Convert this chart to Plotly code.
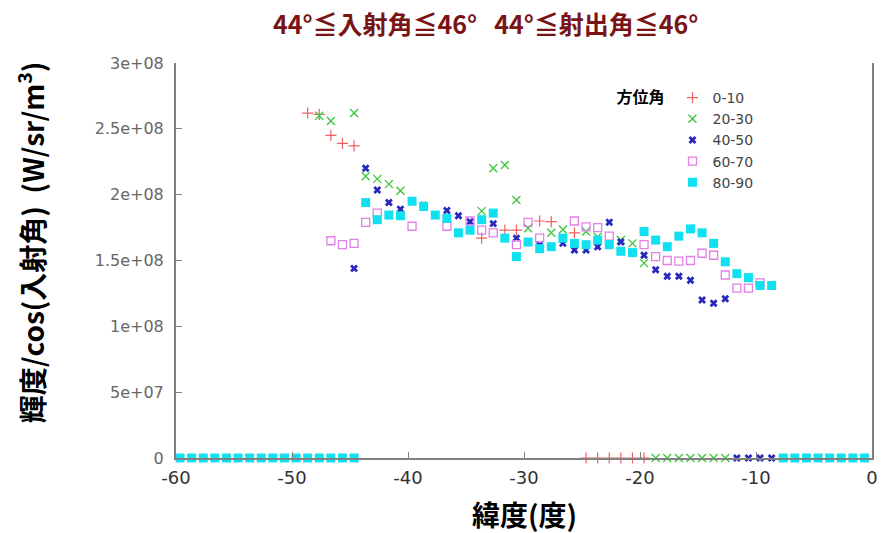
import plotly.graph_objects as go

# ---------------- data (latitude in degrees, value in W/sr/m^3) ----------------
lat_0_10 = [-48.65, -47.65, -46.65, -45.65, -44.65, -33.65, -31.65, -30.65, -28.65, -27.65, -25.65,
            -24.65, -23.65, -22.65, -21.65, -20.65, -19.65]
val_0_10 = [2.62e8, 2.61e8, 2.45e8, 2.39e8, 2.37e8, 1.67e8, 1.73e8, 1.73e8, 1.80e8, 1.795e8, 1.71e8,
            0, 0, 0, 0, 0, 0]

lat_20_30 = [-47.65, -46.65, -44.65, -43.65, -42.65, -41.65, -40.65, -36.65, -33.65, -32.65, -31.65,
             -30.65, -29.65, -27.65, -26.65, -24.65, -23.65, -21.65, -20.65, -19.65,
             -18.65, -17.65, -16.65, -15.65, -14.65, -13.65, -12.65]
val_20_30 = [2.60e8, 2.56e8, 2.62e8, 2.14e8, 2.12e8, 2.08e8, 2.03e8, 1.82e8, 1.875e8, 2.20e8, 2.225e8,
             1.96e8, 1.745e8, 1.71e8, 1.735e8, 1.72e8, 1.68e8, 1.655e8, 1.63e8, 1.48e8,
             0, 0, 0, 0, 0, 0, 0]

lat_40_50 = [-44.65, -43.65, -42.65, -41.65, -40.65, -38.65, -36.65, -35.65, -34.65, -32.65, -30.65,
             -28.65, -26.65, -25.65, -24.65, -23.65, -22.65, -21.65, -19.65, -18.65, -17.65, -16.65,
             -15.65, -14.65, -13.65, -12.65, -11.65, -10.65, -9.65, -8.65]
val_40_50 = [1.44e8, 2.20e8, 2.035e8, 1.94e8, 1.89e8, 1.92e8, 1.88e8, 1.84e8, 1.795e8, 1.78e8, 1.67e8,
             1.62e8, 1.63e8, 1.58e8, 1.58e8, 1.605e8, 1.79e8, 1.64e8, 1.54e8, 1.43e8, 1.38e8, 1.38e8,
             1.35e8, 1.20e8, 1.175e8, 1.21e8, 0, 0, 0, 0]

lat_60_70 = [-46.65, -45.65, -44.65, -43.65, -42.65, -39.65, -36.65, -34.65, -33.65, -32.65, -30.65,
             -29.65, -28.65, -25.65, -24.65, -23.65, -22.65, -19.65, -18.65, -17.65, -16.65, -15.65,
             -14.65, -13.65, -12.65, -11.65, -10.65, -9.65]
val_60_70 = [1.65e8, 1.62e8, 1.63e8, 1.79e8, 1.86e8, 1.76e8, 1.76e8, 1.80e8, 1.73e8, 1.71e8, 1.62e8,
             1.79e8, 1.67e8, 1.80e8, 1.755e8, 1.75e8, 1.685e8, 1.62e8, 1.53e8, 1.50e8, 1.495e8, 1.50e8,
             1.555e8, 1.54e8, 1.39e8, 1.29e8, 1.29e8, 1.33e8]

lat_80_90 = [-59.65, -58.65, -57.65, -56.65, -55.65, -54.65, -53.65, -52.65, -51.65, -50.65, -49.65,
             -48.65, -47.65, -46.65, -45.65, -44.65,
             -43.65, -42.65, -41.65, -40.65, -39.65, -38.65, -37.65, -36.65, -35.65, -34.65, -33.65,
             -32.65, -31.65, -30.65, -29.65, -28.65, -27.65, -26.65, -25.65, -24.65, -23.65, -22.65,
             -21.65, -20.65, -19.65, -18.65, -17.65, -16.65, -15.65, -14.65, -13.65, -12.65, -11.65,
             -10.65, -9.65, -8.65,
             -7.65, -6.65, -5.65, -4.65, -3.65, -2.65, -1.65, -0.65]
val_80_90 = [0, 0, 0, 0, 0, 0, 0, 0, 0, 0, 0, 0, 0, 0, 0, 0,
             1.94e8, 1.81e8, 1.845e8, 1.84e8, 1.95e8, 1.91e8, 1.845e8, 1.82e8, 1.71e8, 1.73e8, 1.81e8,
             1.86e8, 1.67e8, 1.53e8, 1.64e8, 1.59e8, 1.605e8, 1.67e8, 1.63e8, 1.62e8, 1.655e8, 1.62e8,
             1.57e8, 1.56e8, 1.72e8, 1.655e8, 1.605e8, 1.685e8, 1.74e8, 1.71e8, 1.63e8, 1.49e8, 1.40e8,
             1.37e8, 1.31e8, 1.31e8,
             0, 0, 0, 0, 0, 0, 0, 0]

y_tick_vals = [0, 5e7, 1e8, 1.5e8, 2e8, 2.5e8, 3e8]
y_tick_text = ["0", "5e+07", "1e+08", "1.5e+08", "2e+08", "2.5e+08", "3e+08"]
x_tick_vals = [-60, -50, -40, -30, -20, -10, 0]
x_tick_text = ["-60", "-50", "-40", "-30", "-20", "-10", "0"]

title_text = "44°≦入射角≦46°\u00a0\u00a0\u00a044°≦射出角≦46°"
x_title = "緯度(度)"
y_title = "輝度/cos(入射角)\u00a0\u00a0(W/sr/m<sup>3</sup>)"
legend_title = "方位角"

series = [
    ("0-10", lat_0_10, val_0_10, dict(symbol="cross-thin", size=8, color="#f06060",
                                      line=dict(width=1.2, color="#f06060"))),
    ("20-30", lat_20_30, val_20_30, dict(symbol="x-thin", size=8, color="#40c840",
                                         line=dict(width=1.4, color="#40c840"))),
    ("40-50", lat_40_50, val_40_50, dict(symbol="x", size=7, color="#2828c0",
                                         line=dict(width=0, color="#2828c0"))),
    ("60-70", lat_60_70, val_60_70, dict(symbol="square-open", size=8, color="#e080e8",
                                         line=dict(width=1.3, color="#e080e8"))),
    ("80-90", lat_80_90, val_80_90, dict(symbol="square", size=9, color="#10e0f0",
                                         line=dict(width=0, color="#10e0f0"))),
]

fig = go.Figure()
for name, xs, ys, mk in series:
    fig.add_trace(go.Scatter(x=xs, y=ys, mode="markers", name=name, marker=mk, cliponaxis=False))

CJK = "Noto Sans CJK JP"
TICK = "DejaVu Sans, Verdana, sans-serif"

# the page body adds an 8px offset, so the figure fits in 870 x 525
fig.update_layout(
    width=870, height=525,
    margin=dict(l=168, r=0, t=55, b=75),
    plot_bgcolor="white", paper_bgcolor="white",
    title=dict(text=title_text, x=0.549, xanchor="center", y=0.968, yanchor="middle",
               font=dict(family=CJK, size=25, color="#7a1414", weight="bold")),
    legend=dict(
        x=0.63, y=0.952, xanchor="left", yanchor="top",
        bgcolor="rgba(0,0,0,0)",
        font=dict(family=TICK, size=14, color="#444444"),
        title=dict(text=legend_title, side="left",
                   font=dict(family=CJK, size=16, color="#000000", weight="bold")),
        itemwidth=30, tracegroupgap=0,
    ),
    xaxis=dict(
        range=[-60, 0], tickvals=x_tick_vals, ticktext=x_tick_text,
        ticks="inside", ticklen=6, tickcolor="#808080", tickwidth=1,
        showline=True, linecolor="#808080", linewidth=2, mirror=False,
        showgrid=False, zeroline=False, ticklabelstandoff=2,
        ticklabeloverflow="allow",
        tickfont=dict(family=TICK, size=18, color="#333333"),
    ),
    yaxis=dict(
        range=[0, 3e8], tickvals=y_tick_vals, ticktext=y_tick_text,
        ticks="inside", ticklen=6, tickcolor="#808080", tickwidth=1,
        showline=True, linecolor="#808080", linewidth=2, mirror=True,
        showgrid=False, zeroline=False, ticklabelstandoff=7,
        tickfont=dict(family=TICK, size=16, color="#666666"),
    ),
    annotations=[
        dict(text=y_title, textangle=-90, xref="paper", yref="paper",
             x=-0.209, y=0.545, xanchor="center", yanchor="middle", showarrow=False,
             font=dict(family=CJK, size=28, color="#000000", weight="bold")),
        dict(text=x_title, xref="paper", yref="paper",
             x=0.5, y=-0.142, xanchor="center", yanchor="middle", showarrow=False,
             font=dict(family=CJK, size=28, color="#000000", weight="bold")),
    ],
)

fig.write_html("out.html")
